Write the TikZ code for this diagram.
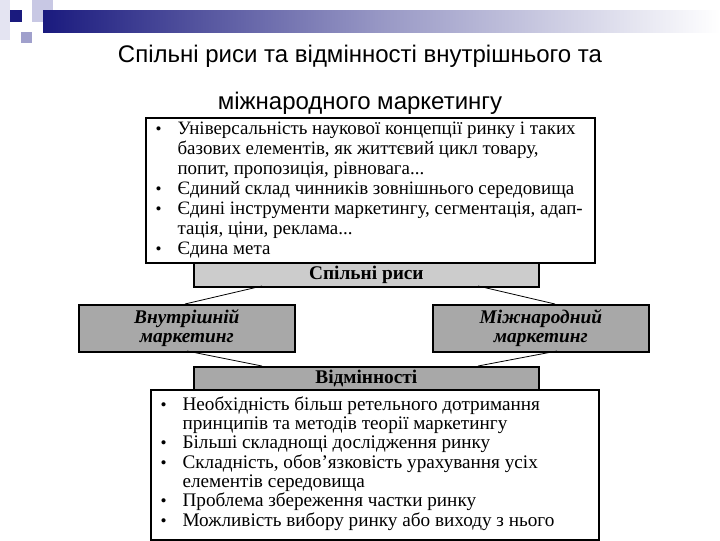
\documentclass[tikz,border=0pt]{standalone}
\usepackage{fontspec}
\setmainfont{Liberation Serif}
\newfontfamily\titlefont{Liberation Sans}
\definecolor{navy}{HTML}{1A1A7E}
\definecolor{lav}{HTML}{C8C8E4}
\definecolor{lavlight}{HTML}{E4E4F2}
\definecolor{lavgrey}{HTML}{A0A0CC}
\definecolor{boxlight}{HTML}{CCCCCC}
\definecolor{boxdark}{HTML}{A8A8A8}
\newcommand{\bul}{\makebox[17.5pt][l]{\hspace{1pt}\scalebox{0.9}{•}}}
\newcommand{\ind}{\hspace{17.5pt}}
\begin{document}
\begin{tikzpicture}[x=0.75pt,y=-0.75pt,
  listbox/.style={draw=black, line width=1.3pt, fill=white},
  headlight/.style={draw=black, line width=1.3pt, fill=boxlight},
  headdark/.style={draw=black, line width=1.3pt, fill=boxdark},
  listtext/.style={anchor=north west, align=left, inner sep=0pt,
    font=\fontsize{14.2}{15}\selectfont},
  headtext/.style={font=\fontsize{14.5}{15}\selectfont\bfseries},
  sidetext/.style={font=\fontsize{14.5}{14.5}\selectfont\bfseries\itshape, align=center},
  link/.style={draw=black, line width=0.6pt}]
\useasboundingbox (0,0) rectangle (720,540);
% decoration
\fill[lavlight] (0,0) rectangle (10,40);
\fill[lav] (32,0) rectangle (53,22);
\shade[left color=navy, right color=white, middle color=navy!45!white] (43,10) rectangle (720,32);
\fill[lav] (32,10) rectangle (43,22);
\fill[navy] (10,10) rectangle (22,22);
\fill[lavgrey] (21,32) rectangle (32,43);
% title
\node[font=\titlefont\fontsize{18}{20}\selectfont] (t1) at (360,56) {Спільні риси та відмінності внутрішнього та};
\node[font=\titlefont\fontsize{18}{20}\selectfont] (t2) at (360,103) {міжнародного маркетингу};
% top list box
\node[listbox, minimum width=449*0.75pt, minimum height=145*0.75pt, anchor=north west, inner sep=0pt] (top) at (145,117) {};
\node[listtext] (toptext) at (154,122) {\bul Універсальність наукової концепції ринку і таких\\
\ind базових елементів, як життєвий цикл товару,\\
\ind попит, пропозиція, рівновага...\\
\bul Єдиний склад чинників зовнішнього середовища\\
\bul Єдині інструменти маркетингу, сегментація, адап-\\
\ind тація, ціни, реклама...\\
\bul Єдина мета};
% common head
\node[headlight, minimum width=345*0.75pt, minimum height=24*0.75pt, anchor=north west, inner sep=0pt] (common) at (193,262) {};
\node[headtext] (commontext) at (common.center) {Спільні риси};
% side boxes
\node[headdark, minimum width=216*0.75pt, minimum height=47*0.75pt, anchor=north west, inner sep=0pt] (inner) at (78,304) {};
\node[sidetext] (innertext) at (inner.center) {Внутрішній\\маркетинг};
\node[headdark, minimum width=216*0.75pt, minimum height=47*0.75pt, anchor=north west, inner sep=0pt] (intl) at (432,304) {};
\node[sidetext] (intltext) at (intl.center) {Міжнародний\\маркетинг};
% diff head
\node[headdark, minimum width=345*0.75pt, minimum height=24*0.75pt, anchor=north west, inner sep=0pt] (diff) at (193,366) {};
\node[headtext] (difftext) at (diff.center) {Відмінності};
% bottom list box
\node[listbox, minimum width=448*0.75pt, minimum height=150*0.75pt, anchor=north west, inner sep=0pt] (bot) at (150,389) {};
\node[listtext, font=\fontsize{14.4}{14.5}\selectfont] (bottext) at (159,396) {\bul Необхідність більш ретельного дотримання\\
\ind принципів та методів теорії маркетингу\\
\bul Більші складнощі дослідження ринку\\
\bul Складність, обов’язковість урахування усіх\\
\ind елементів середовища\\
\bul Проблема збереження частки ринку\\
\bul Можливість вибору ринку або виходу з нього};
% connectors
\coordinate (c1) at (262,286);
\coordinate (c2) at (478,286);
\coordinate (i1) at (185,304);
\coordinate (i2) at (187,351);
\coordinate (m1) at (555,304);
\coordinate (m2) at (557,351);
\coordinate (d1) at (262,366);
\coordinate (d2) at (478,366);
\draw[link] (c1) -- (i1);
\draw[link] (c2) -- (m1);
\draw[link] (i2) -- (d1);
\draw[link] (m2) -- (d2);
\end{tikzpicture}
\end{document}
